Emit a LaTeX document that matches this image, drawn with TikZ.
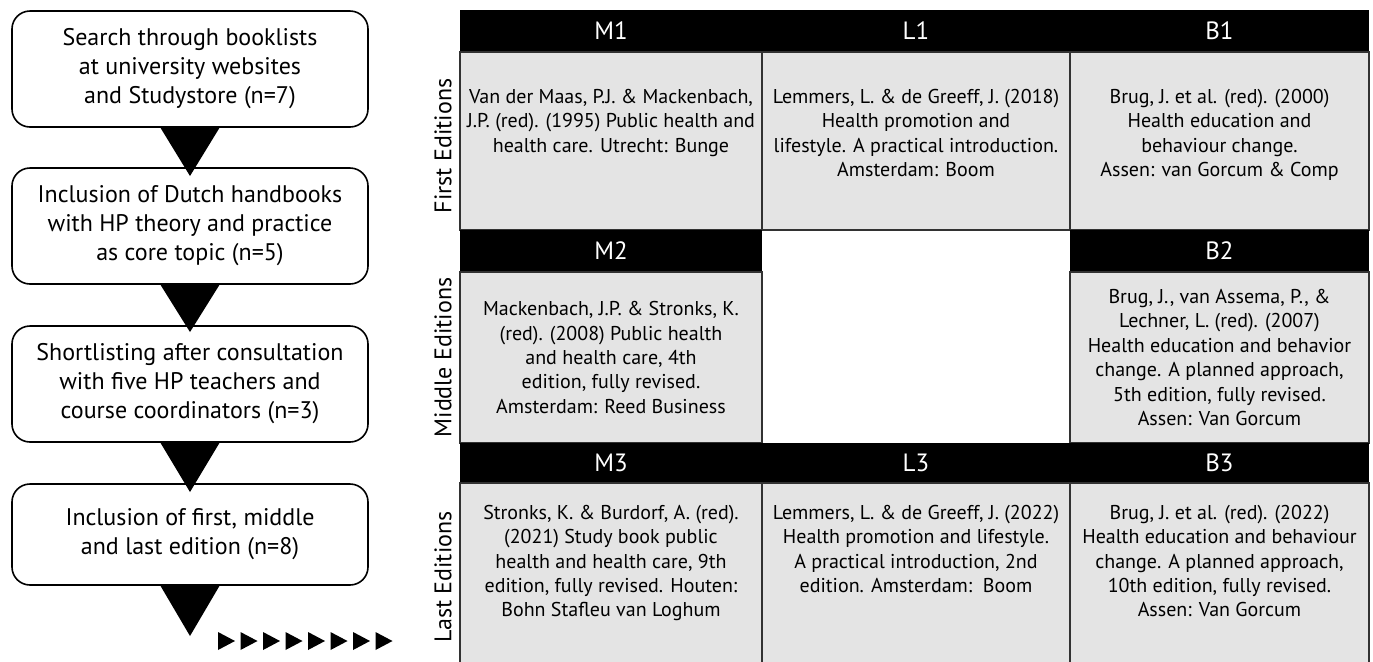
\documentclass[tikz,border=0pt]{standalone}
\usepackage{fontspec}
\setmainfont{PT Sans}
\usepackage{tikz}
\usetikzlibrary{positioning,calc}
\definecolor{cellgray}{RGB}{228,228,228}
\definecolor{gridline}{RGB}{50,50,50}

\begin{document}
\begin{tikzpicture}[
  every node/.style={inner sep=0pt,outer sep=0pt},
  flowbox/.style={draw=black,line width=0.8pt,rounded corners=9pt,fill=white,
    minimum width=178pt,minimum height=58pt,align=center,
    font=\fontsize{12}{14.5}\selectfont},
  hdr/.style={fill=black,text=white,minimum height=21pt,
    font=\fontsize{12.5}{14}\selectfont},
  cell/.style={fill=cellgray,draw=gridline,line width=0.75pt,
    minimum height=89pt},
  celltxt/.style={align=center,font=\fontsize{10}{12.2}\selectfont},
  rowlbl/.style={rotate=90,font=\fontsize{12}{13}\selectfont},
  funnel/.style={fill=black},
]
\useasboundingbox (0,0) rectangle (686.5pt,-330.5pt);

% selection steps
\node[flowbox,anchor=north west](S1)at(6pt,-5.5pt)
  {Search through booklists\\at university websites\\and Studystore (n=7)};
\node[flowbox,anchor=north](S2)at([yshift=-20.5pt]S1.south)
  {Inclusion of Dutch handbooks\\with HP theory and practice\\as core topic (n=5)};
\node[flowbox,anchor=north](S3)at([yshift=-21pt]S2.south)
  {Shortlisting after consultation\\with five HP teachers and\\course coordinators (n=3)};
\node[flowbox,anchor=north,minimum height=50.5pt](S4)at([yshift=-21pt]S3.south)
  {Inclusion of first, middle\\and last edition (n=8)};

\fill[funnel]([xshift=-15pt]S1.south)--([xshift=15pt]S1.south)--([yshift=-4pt]S2.north)--cycle;
\fill[funnel]([xshift=-15pt]S2.south)--([xshift=15pt]S2.south)--([yshift=-3pt]S3.north)--cycle;
\fill[funnel]([xshift=-15pt]S3.south)--([xshift=15pt]S3.south)--([yshift=-4pt]S4.north)--cycle;
\fill[funnel]([xshift=-15pt]S4.south)--([xshift=15pt]S4.south)--([yshift=-25.5pt]S4.south)--cycle;

\foreach \i in {0,...,7}
  \fill[funnel]({109pt+\i*11.25pt},-316pt)--++(8.5pt,-4.5pt)--++(-8.5pt,-4.5pt)--cycle;

% first editions
\node[hdr,minimum width=151pt,anchor=north west](H11)at(230pt,-5pt){M1};
\node[hdr,minimum width=154pt,anchor=west](H12)at(H11.east){L1};
\node[hdr,minimum width=149.5pt,anchor=west](H13)at(H12.east){B1};
\node[cell,minimum width=151pt,anchor=north west](C11)at(H11.south west){};
\node[cell,minimum width=154pt,anchor=north west](C12)at(H12.south west){};
\node[cell,minimum width=149.5pt,anchor=north west](C13)at(H13.south west){};
\node[celltxt,anchor=north](T11)at([yshift=-18.5pt]C11.north)
  {Van der Maas, P.J. \& Mackenbach,\\J.P. (red). (1995) Public health and\\health care. Utrecht: Bunge};
\node[celltxt,anchor=north](T12)at([yshift=-18.5pt]C12.north)
  {Lemmers, L. \& de Greeff, J. (2018)\\Health promotion and\\lifestyle. A practical introduction.\\Amsterdam: Boom};
\node[celltxt,anchor=north](T13)at([yshift=-18.5pt]C13.north)
  {Brug, J. et al. (red). (2000)\\Health education and\\behaviour change.\\Assen: van Gorcum \& Comp};

% middle editions
\node[hdr,minimum width=151pt,anchor=north west](H21)at(C11.south west){M2};
\node[hdr,minimum width=149.5pt,anchor=north west](H23)at(C13.south west){B2};
\node[cell,minimum width=151pt,minimum height=85.5pt,anchor=north west](C21)at(H21.south west){};
\node[cell,minimum width=149.5pt,minimum height=85.5pt,anchor=north west](C23)at(H23.south west){};
\node[celltxt](T21)at(C21.center)
  {Mackenbach, J.P. \& Stronks, K.\\(red). (2008) Public health\\and health care, 4th\\edition, fully revised.\\Amsterdam: Reed Business};
\node[celltxt](T23)at(C23.center)
  {Brug, J., van Assema, P., \&\\Lechner, L. (red). (2007)\\Health education and behavior\\change. A planned approach,\\5th edition, fully revised.\\Assen: Van Gorcum};

% last editions
\node[hdr,minimum width=151pt,minimum height=20pt,anchor=north west](H31)at(C21.south west){M3};
\node[hdr,minimum width=154pt,minimum height=20pt,anchor=west](H32)at(H31.east){L3};
\node[hdr,minimum width=149.5pt,minimum height=20pt,anchor=west](H33)at(H32.east){B3};
\node[cell,minimum width=151pt,minimum height=92pt,anchor=north west](C31)at(H31.south west){};
\node[cell,minimum width=154pt,minimum height=92pt,anchor=north west](C32)at(H32.south west){};
\node[cell,minimum width=149.5pt,minimum height=92pt,anchor=north west](C33)at(H33.south west){};
\node[celltxt,anchor=north](T31)at([yshift=-11pt]C31.north)
  {Stronks, K. \& Burdorf, A. (red).\\(2021) Study book public\\health and health care, 9th\\edition, fully revised. Houten:\\Bohn Stafleu van Loghum};
\node[celltxt,anchor=north](T32)at([yshift=-11pt]C32.north)
  {Lemmers, L. \& de Greeff, J. (2022)\\Health promotion and lifestyle.\\A practical introduction, 2nd\\edition. Amsterdam:\ \ Boom};
\node[celltxt,anchor=north](T33)at([yshift=-11pt]C33.north)
  {Brug, J. et al. (red). (2022)\\Health education and behaviour\\change. A planned approach,\\10th edition, fully revised.\\Assen: Van Gorcum};

% row labels
\node[rowlbl](E1)at([xshift=-8.5pt,yshift=-2.5pt]C11.west){First Editions};
\node[rowlbl](E2)at([xshift=-8.5pt]C21.west){Middle Editions};
\node[rowlbl](E3)at([xshift=-8.5pt,yshift=-1pt]C31.west){Last Editions};
\end{tikzpicture}
\end{document}
